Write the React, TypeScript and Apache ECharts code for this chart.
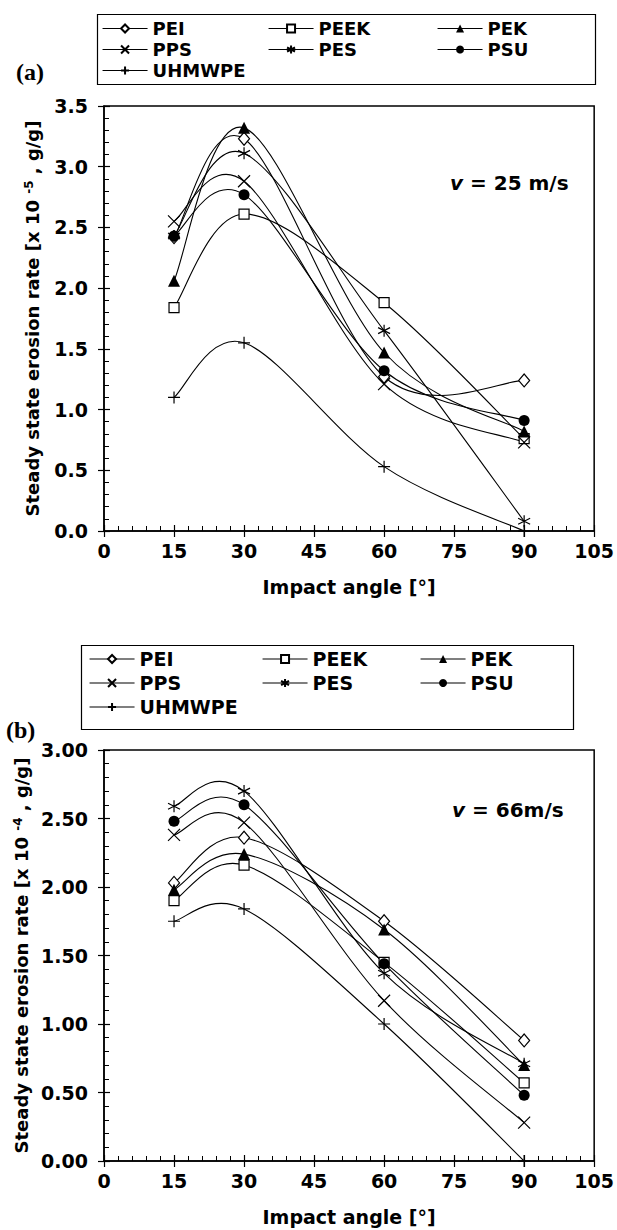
import React, { useEffect, useRef } from "react";
import * as echarts from "echarts";

const FONT = "DejaVu Sans";

const angles = [15, 30, 60, 90];
const seriesNames = ["PEI", "PEEK", "PEK", "PPS", "PES", "PSU", "UHMWPE"];
const xTicks = [0, 105, 15];

// (a) v = 25 m/s  [x 10^-5 g/g]
const peiA = [2.42, 3.23, 1.27, 1.24];
const peekA = [1.84, 2.61, 1.88, 0.76];
const pekA = [2.06, 3.32, 1.47, 0.82];
const ppsA = [2.55, 2.88, 1.21, 0.73];
const pesA = [2.43, 3.11, 1.65, 0.08];
const psuA = [2.43, 2.77, 1.32, 0.91];
const uhmwpeA = [1.1, 1.55, 0.53, 0.0];
const yTicksA = [0, 3.5, 0.5];

// (b) v = 66 m/s  [x 10^-4 g/g]
const peiB = [2.03, 2.36, 1.75, 0.88];
const peekB = [1.9, 2.16, 1.45, 0.57];
const pekB = [1.98, 2.24, 1.69, 0.7];
const ppsB = [2.38, 2.47, 1.17, 0.28];
const pesB = [2.59, 2.7, 1.37, 0.71];
const psuB = [2.48, 2.6, 1.44, 0.48];
const uhmwpeB = [1.75, 1.84, 1.0, 0.0];
const yTicksB = [0, 3, 0.5];

const valuesA = [peiA, peekA, pekA, ppsA, pesA, psuA, uhmwpeA];
const valuesB = [peiB, peekB, pekB, ppsB, pesB, psuB, uhmwpeB];

const hollow = { color: "#fff", borderColor: "#000", borderWidth: 1.2 };
const markerStyles: Record<string, any> = {
  PEI: { symbol: "diamond", symbolSize: [11, 13], itemStyle: hollow },
  PEEK: { symbol: "rect", symbolSize: 10, itemStyle: hollow },
  PEK: { symbol: "triangle", symbolSize: 12, itemStyle: { color: "#000" } },
  PPS: { symbol: "path://M0,0L10,10M10,0L0,10", symbolSize: 12, itemStyle: hollow },
  PES: { symbol: "path://M5,0L5,10M0,2.5L10,7.5M10,2.5L0,7.5", symbolSize: 12, itemStyle: hollow },
  PSU: { symbol: "circle", symbolSize: 11, itemStyle: { color: "#000" } },
  UHMWPE: { symbol: "path://M5,0L5,10M0,5L10,5", symbolSize: 12, itemStyle: hollow },
};

// smoothed (Catmull-Rom) curve through the points, one bezier per segment
function curveSeries(name: string, vals: number[], xi: number, yi: number) {
  const n = vals.length;
  const clamp = (k: number) => Math.max(0, Math.min(n - 1, k));
  return {
    type: "custom",
    name: name + " curve",
    xAxisIndex: xi,
    yAxisIndex: yi,
    silent: true,
    data: angles.map((a, j) => [a, vals[j]]),
    encode: { x: 0, y: 1 },
    renderItem: (params: any, api: any) => {
      const j = params.dataIndex;
      if (j >= n - 1) return { type: "group", children: [] };
      const P = (k: number) => api.coord([angles[clamp(k)], vals[clamp(k)]]);
      const p0 = P(j - 1), p1 = P(j), p2 = P(j + 1), p3 = P(j + 2);
      const t = 1 / 6;
      return {
        type: "bezierCurve",
        shape: {
          x1: p1[0], y1: p1[1], x2: p2[0], y2: p2[1],
          cpx1: p1[0] + (p2[0] - p0[0]) * t, cpy1: p1[1] + (p2[1] - p0[1]) * t,
          cpx2: p2[0] - (p3[0] - p1[0]) * t, cpy2: p2[1] - (p3[1] - p1[1]) * t,
        },
        style: { stroke: "#000", lineWidth: 1.1, fill: null },
      };
    },
  };
}

function buildSeries(values: number[][], xi: number, yi: number) {
  const curves = seriesNames.map((name, i) => curveSeries(name, values[i], xi, yi));
  const marks = seriesNames.map((name, i) => ({
    type: "line",
    name,
    xAxisIndex: xi,
    yAxisIndex: yi,
    showAllSymbol: true,
    data: angles.map((a, j) => [a, values[i][j]]),
    lineStyle: { color: "#000", width: 1.1, opacity: 0 },
    ...markerStyles[name],
  }));
  return [...curves, ...marks];
}

const labelStyle = { fontFamily: FONT, fontWeight: "bold", fontSize: 19, color: "#000" };

function xAxes(gridIndex: number) {
  return [
    {
      type: "value", gridIndex, position: "bottom", min: xTicks[0], max: xTicks[1], interval: xTicks[2],
      axisLine: { lineStyle: { color: "#000", width: 1.5 } },
      axisTick: { show: true, inside: true, length: 6, lineStyle: { color: "#000", width: 1.2 } },
      minorTick: { show: true, splitNumber: 5, length: 5, lineStyle: { color: "#000", width: 1 } },
      splitLine: { show: false },
      axisLabel: { ...labelStyle, margin: 10 },
      name: "Impact angle [°]", nameLocation: "middle", nameGap: 46,
      nameTextStyle: { ...labelStyle },
    },
    {
      type: "value", gridIndex, position: "bottom", min: xTicks[0], max: xTicks[1], interval: xTicks[2],
      axisLine: { show: false },
      axisTick: { show: true, inside: false, length: 6, lineStyle: { color: "#000", width: 1.2 } },
      splitLine: { show: false }, axisLabel: { show: false },
    },
  ];
}

function yAxes(gridIndex: number, ticks: number[], decimals: number, exp: string) {
  return [
    {
      type: "value", gridIndex, position: "left", min: ticks[0], max: ticks[1], interval: ticks[2],
      axisLine: { show: true, lineStyle: { color: "#000", width: 1.5 } },
      axisTick: { show: true, inside: true, length: 6, lineStyle: { color: "#000", width: 1.2 } },
      minorTick: { show: true, splitNumber: 5, length: 5, lineStyle: { color: "#000", width: 1 } },
      splitLine: { show: false },
      axisLabel: { ...labelStyle, margin: 16, formatter: (v: number) => v.toFixed(decimals) },
      name: `Steady state erosion rate [x 10 {sup|${exp}} , g/g]`,
      nameLocation: "middle", nameGap: 63, nameRotate: 90,
      nameTextStyle: {
        ...labelStyle, fontSize: 18,
        rich: { sup: { fontFamily: FONT, fontWeight: "bold", fontSize: 12, color: "#000", verticalAlign: "top" } },
      },
    },
    {
      type: "value", gridIndex, position: "left", min: ticks[0], max: ticks[1], interval: ticks[2],
      axisLine: { show: false },
      axisTick: { show: true, inside: false, length: 6, lineStyle: { color: "#000", width: 1.2 } },
      splitLine: { show: false }, axisLabel: { show: false },
    },
  ];
}

function legends(lefts: number[], top: number, fontSize: number, lineHeight: number, gap: number) {
  const base = {
    orient: "vertical", itemWidth: 45, itemHeight: 10, itemGap: gap, padding: 0,
    selectedMode: false,
    lineStyle: { color: "#000", width: 1.1, opacity: 1, type: "solid" },
    textStyle: { ...labelStyle, fontSize, lineHeight },
  };
  return [
    { ...base, left: lefts[0], top, data: ["PEI", "PPS", "UHMWPE"] },
    { ...base, left: lefts[1], top, data: ["PEEK", "PES"] },
    { ...base, left: lefts[2], top, data: ["PEK", "PSU"] },
  ];
}

const serifLabel = { fontFamily: "Liberation Serif", fontWeight: "bold", fontSize: 24, fill: "#000" };
const vStyle = (text: string) => ({
  text, fontFamily: FONT, fontWeight: "bold", fontSize: 20, fill: "#000",
  rich: { i: { fontFamily: FONT, fontWeight: "bold", fontStyle: "italic", fontSize: 20, fill: "#000" } },
});

export default function App() {
  const ref = useRef<HTMLDivElement>(null);
  useEffect(() => {
    if (!ref.current) return;
    const chart = echarts.init(ref.current, undefined, { renderer: "svg" });
    const option: any = {
      animation: false,
      backgroundColor: "#fff",
      grid: [
        { left: 104, top: 106, width: 491, height: 425, show: true, borderColor: "#000", borderWidth: 1.5, backgroundColor: "transparent" },
        { left: 104, top: 750, width: 491, height: 411, show: true, borderColor: "#000", borderWidth: 1.5, backgroundColor: "transparent" },
      ],
      xAxis: [...xAxes(0), ...xAxes(1)],
      yAxis: [...yAxes(0, yTicksA, 1, "-5"), ...yAxes(1, yTicksB, 2, "-4")],
      legend: [...legends([102, 268, 437], 18, 18, 21, 0), ...legends([89, 262, 420], 648, 19, 22, 2)],
      series: [...buildSeries(valuesA, 0, 0), ...buildSeries(valuesB, 2, 2)],
      graphic: [
        { type: "rect", left: 95, top: 12, shape: { width: 498, height: 70 }, style: { fill: "none", stroke: "#000", lineWidth: 1.2 }, z: -1 },
        { type: "rect", left: 79, top: 643, shape: { width: 492, height: 84 }, style: { fill: "none", stroke: "#000", lineWidth: 1.2 }, z: -1 },
        { type: "text", left: 16, top: 60, style: { text: "(a)", ...serifLabel } },
        { type: "text", left: 6, top: 718, style: { text: "(b)", ...serifLabel } },
        { type: "text", left: 450, top: 173, style: vStyle("{i|v} = 25 m/s") },
        { type: "text", left: 452, top: 800, style: vStyle("{i|v} = 66m/s") },
      ],
    };
    chart.setOption(option);
    return () => chart.dispose();
  }, []);
  return (
    <div
      ref={ref}
      style={{ position: "absolute", left: 0, top: 0, width: 617, height: 1230, background: "#fff" }}
    />
  );
}
